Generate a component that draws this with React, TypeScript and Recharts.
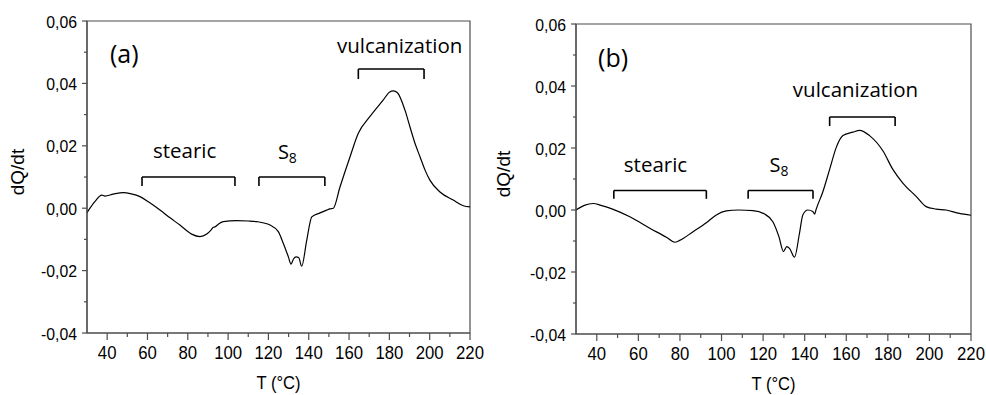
import React from "react";
import {
  LineChart,
  Line,
  XAxis,
  YAxis,
  Label,
  ReferenceLine,
  ReferenceArea,
  ReferenceDot,
} from "recharts";

// panel (a)
const tempA = [
  30, 34, 37.3, 38.9, 43, 48, 52, 56.3, 61, 66.2, 71, 76.1, 81.9, 86, 89.4, 91.5, 92.7, 93.5,
  95, 97.6, 104.2, 110, 114.2, 120.8, 124.9, 127.4, 129.9, 131.2, 132.5, 133.7, 135, 136.5,
  139, 141.5, 145.6, 148.9, 150.5, 152.2, 155.5, 160.5, 164.6, 170.4, 177, 180, 182, 184,
  187.7, 190.2, 192.7, 195.2, 197.7, 200.1, 205.1, 211.7, 216.7, 220,
];
const dqA = [
  -0.0014, 0.0022, 0.0042, 0.0039, 0.0045, 0.005, 0.0046, 0.0037, 0.0018, -0.0006, -0.003,
  -0.0054, -0.0083, -0.0091, -0.0083, -0.007, -0.0061, -0.006, -0.0052, -0.0043, -0.004,
  -0.0041, -0.0043, -0.0054, -0.0075, -0.0113, -0.0156, -0.0179, -0.0162, -0.0156, -0.0158,
  -0.0186, -0.0103, -0.0028, -0.0015, -0.0006, -0.0002, 0.0, 0.0068, 0.0165, 0.024, 0.0294,
  0.0347, 0.0372, 0.0376, 0.037, 0.0315, 0.0261, 0.0208, 0.0165, 0.0122, 0.009, 0.0052,
  0.0026, 0.0008, 0.0004,
];

// panel (b)
const tempB = [
  30, 34, 38.3, 42, 47.9, 55.9, 65.5, 73.5, 77.5, 79.9, 86.3, 92.7, 97.5, 102.3, 108, 115.1,
  120.7, 124.7, 127.6, 129.8, 131.4, 132.7, 135.1, 137.5, 139.1, 141.5, 143.9, 144.8, 145.5,
  148.7, 152, 155.2, 158.4, 163.2, 166.4, 171.2, 177.6, 182.4, 187.2, 193.6, 198.4, 203.2,
  208, 214.4, 220,
];
const dqB = [
  0, 0.0015, 0.0021, 0.0015, 0.0002, -0.0022, -0.0059, -0.0088, -0.0104, -0.0098, -0.007,
  -0.0041, -0.0016, -0.0003, 0, -0.0002, -0.0013, -0.0038, -0.0086, -0.0134, -0.0118,
  -0.0124, -0.0152, -0.0075, -0.0016, 0, -0.0005, -0.0013, 0.0002, 0.0058, 0.0131, 0.0202,
  0.024, 0.0251, 0.0257, 0.024, 0.0191, 0.0131, 0.0087, 0.0044, 0.0011, 0.0003, 0, -0.0011,
  -0.0017,
];

const xTicks = [40, 50, 60, 70, 80, 90, 100, 110, 120, 130, 140, 150, 160, 170, 180, 190, 200, 210, 220];
const yTicks = [-0.04, -0.03, -0.02, -0.01, 0, 0.01, 0.02, 0.03, 0.04, 0.05, 0.06];

// brackets: [from T, to T, top value, leg end value]
const bracketsA = [
  [57.3, 103.4, 0.01, 0.0071],
  [115.3, 148, 0.01, 0.0071],
  [164.6, 197.2, 0.0446, 0.0414],
];
const bracketsB = [
  [48.2, 92.7, 0.0063, 0.0036],
  [112.8, 144, 0.0063, 0.0036],
  [152, 183.5, 0.03, 0.0271],
];

// annotation anchors: [text, T, value]
const notesA = [
  ["(a)", 41.4, 0.0465],
  ["vulcanization", 154, 0.0497],
  ["stearic", 62.7, 0.0161],
  ["S8", 124.7, 0.0158],
];
const notesB = [
  ["(b)", 40.6, 0.0461],
  ["vulcanization", 134.3, 0.0365],
  ["stearic", 53, 0.0124],
  ["S8", 123.1, 0.0123],
];

const AXIS = "#4d4d4d";
const TICK_FONT = "Liberation Sans";
const NOTE_FONT = "Open Sans";

const fmt = (v: number) => v.toFixed(2).replace(".", ",");

function XTick(props: any) {
  const { x, y, payload } = props;
  const v = payload.value;
  const major = v % 20 === 0;
  return (
    <g>
      <line x1={x} x2={x} y1={y} y2={y + (major ? 7 : 4)} stroke={AXIS} strokeWidth={1.2} />
      {major && (
        <text
          transform={`translate(${x} ${y + 26}) scale(0.93 1)`}
          textAnchor="middle"
          style={{ fontSize: 18, fontFamily: TICK_FONT }}
          fill="#000"
        >
          {v}
        </text>
      )}
    </g>
  );
}

function YTick(props: any) {
  const { x, y, payload } = props;
  const v = payload.value;
  const major = Math.round(v * 100) % 2 === 0;
  return (
    <g>
      <line x1={x - (major ? 5 : 3)} x2={x} y1={y} y2={y} stroke={AXIS} strokeWidth={1.2} />
      {major && (
        <text
          transform={`translate(${x - 10} ${y + 6.5}) scale(0.93 1)`}
          textAnchor="end"
          style={{ fontSize: 17, fontFamily: TICK_FONT }}
          fill="#000"
        >
          {fmt(v)}
        </text>
      )}
    </g>
  );
}

function noteShape(text: string) {
  return (p: any) => {
    const { cx, cy } = p;
    if (text === "S8") {
      return (
        <text x={cx} y={cy} style={{ fontSize: 20, fontFamily: NOTE_FONT }} fill="#000">
          S<tspan style={{ fontSize: 14 }} dy={4}>8</tspan>
        </text>
      );
    }
    const big = text.startsWith("(");
    return (
      <text x={cx} y={cy} style={{ fontSize: big ? 25 : 20.5, fontFamily: NOTE_FONT }} fill="#000">
        {text}
      </text>
    );
  };
}

function Panel({
  temps,
  values,
  brackets,
  notes,
  width,
  margin,
  xHeight,
  titleX,
  titleY,
}: any) {
  const data = temps.map((t: number, i: number) => ({ t, v: values[i] }));
  return (
    <LineChart width={width} height={395} data={data} margin={margin}>
      <XAxis
        dataKey="t"
        type="number"
        domain={[30, 220]}
        ticks={xTicks}
        interval={0}
        height={xHeight}
        tickSize={0}
        tickMargin={0}
        tickLine={false}
        axisLine={{ stroke: AXIS, strokeWidth: 1.2 }}
        tick={<XTick />}
      >
        <Label
          content={(p: any) => {
            const vb = p.viewBox;
            return (
              <text
                transform={`translate(${vb.x + vb.width / 2} ${vb.y + 56}) scale(0.92 1)`}
                textAnchor="middle"
                style={{ fontSize: 18, fontFamily: TICK_FONT }}
                fill="#000"
              >
                T (°C)
              </text>
            );
          }}
        />
      </XAxis>
      <YAxis
        type="number"
        domain={[-0.04, 0.06]}
        ticks={yTicks}
        interval={0}
        width={60}
        tickSize={0}
        tickMargin={0}
        tickLine={false}
        axisLine={{ stroke: AXIS, strokeWidth: 1.2 }}
        tick={<YTick />}
      >
        <Label
          content={() => (
            <text
              x={titleX}
              y={titleY}
              transform={`rotate(-90 ${titleX} ${titleY})`}
              textAnchor="middle"
              style={{ fontSize: 19, fontFamily: TICK_FONT }}
              fill="#000"
            >
              dQ/dt
            </text>
          )}
        />
      </YAxis>
      <ReferenceArea
        x1={30}
        x2={220}
        y1={-0.04}
        y2={0.06}
        fill="none"
        fillOpacity={0}
        stroke={AXIS}
        strokeWidth={1.2}
      />
      {brackets.map((b: number[], i: number) => (
        <React.Fragment key={"b" + i}>
          <ReferenceLine segment={[{ x: b[0], y: b[2] }, { x: b[1], y: b[2] }]} stroke="#000" strokeWidth={1.6} />
          <ReferenceLine segment={[{ x: b[0], y: b[2] }, { x: b[0], y: b[3] }]} stroke="#000" strokeWidth={1.6} />
          <ReferenceLine segment={[{ x: b[1], y: b[2] }, { x: b[1], y: b[3] }]} stroke="#000" strokeWidth={1.6} />
        </React.Fragment>
      ))}
      {notes.map((n: any[], i: number) => (
        <ReferenceDot key={"n" + i} x={n[1]} y={n[2]} r={0} ifOverflow="visible" shape={noteShape(n[0])} />
      ))}
      <Line
        type="monotone"
        dataKey="v"
        stroke="#000"
        strokeWidth={1.2}
        dot={false}
        isAnimationActive={false}
      />
    </LineChart>
  );
}

export default function App() {
  return (
    <div style={{ position: "absolute", left: 0, top: 0, width: 986, height: 395, background: "#fff" }}>
      <div style={{ position: "absolute", left: 0, top: 0 }}>
        <Panel
          temps={tempA}
          values={dqA}
          brackets={bracketsA}
          notes={notesA}
          width={490}
          margin={{ top: 21, right: 20, bottom: 0, left: 27 }}
          xHeight={62}
          titleX={24}
          titleY={172}
        />
      </div>
      <div style={{ position: "absolute", left: 490, top: 0 }}>
        <Panel
          temps={tempB}
          values={dqB}
          brackets={bracketsB}
          notes={notesB}
          width={496}
          margin={{ top: 24, right: 15, bottom: 0, left: 26 }}
          xHeight={61}
          titleX={20}
          titleY={174}
        />
      </div>
    </div>
  );
}
